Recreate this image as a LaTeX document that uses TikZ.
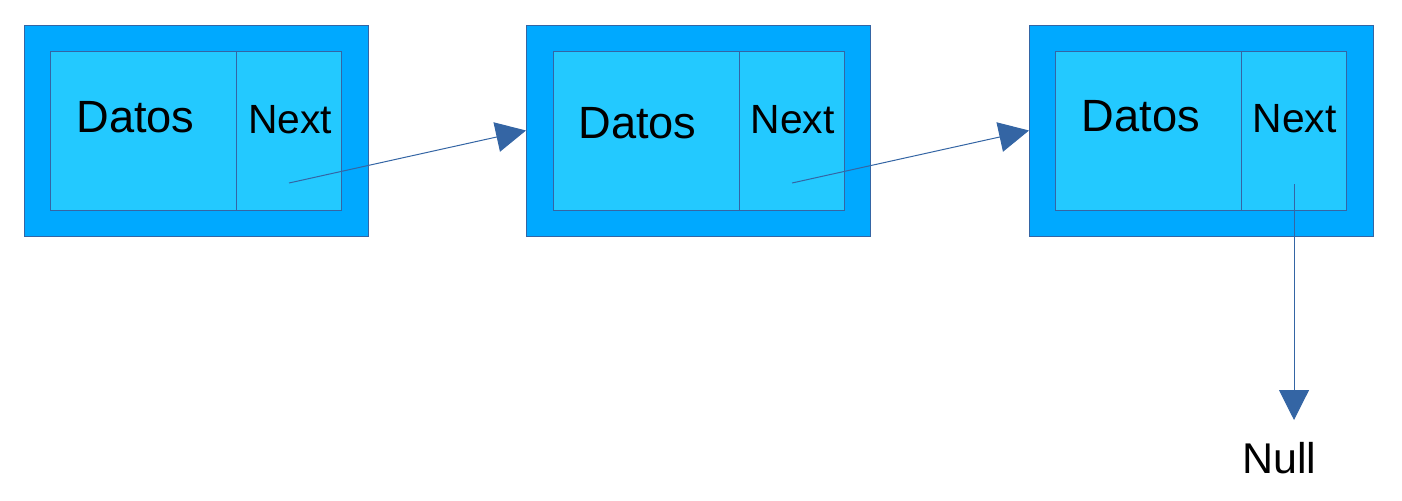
\documentclass[tikz,border=0pt]{standalone}
\usepackage{fontspec}
\setmainfont{Liberation Sans}
\usetikzlibrary{arrows.meta}
\definecolor{outerblue}{RGB}{0,169,255}
\definecolor{innerblue}{RGB}{35,201,255}
\definecolor{edgeblue}{RGB}{52,101,164}
\begin{document}
\begin{tikzpicture}[x=0.5pt,y=-0.5pt,
  outerbox/.style={draw=edgeblue,line width=0.5pt,fill=outerblue,minimum width=172pt,minimum height=105.5pt,inner sep=0pt},
  datacell/.style={draw=edgeblue,line width=0.5pt,fill=innerblue,minimum width=93pt,minimum height=79.5pt,inner sep=0pt},
  nextcell/.style={draw=edgeblue,line width=0.5pt,fill=innerblue,minimum width=52.5pt,minimum height=79.5pt,inner sep=0pt},
  datatext/.style={anchor=base,font=\fontsize{22.6}{26}\selectfont,inner sep=0pt},
  nexttext/.style={anchor=base,font=\fontsize{20.4}{24}\selectfont,inner sep=0pt},
  link/.style={draw=edgeblue,line width=0.5pt,-{Triangle[length=15pt,width=15pt]}}]
\useasboundingbox (0,0) rectangle (1402,500);
% box 1
\node[outerbox] (o1) at (196,130.5) {};
\node[datacell] (d1) at (143,130.5) {};
\node[nextcell] (n1) at (288.5,130.5) {};
\node[datatext] (t1) at (135.5,132) {Datos};
\node[nexttext] (x1) at (290,133) {Next};
% box 2
\node[outerbox] (o2) at (698.5,130.5) {};
\node[datacell] (d2) at (646,130.5) {};
\node[nextcell] (n2) at (791.5,130.5) {};
\node[datatext] (t2) at (637.5,138) {Datos};
\node[nexttext] (x2) at (792.5,133) {Next};
% box 3
\node[outerbox] (o3) at (1201.5,130.5) {};
\node[datacell] (d3) at (1148.5,130.5) {};
\node[nextcell] (n3) at (1293.5,130.5) {};
\node[datatext] (t3) at (1141,131) {Datos};
\node[nexttext] (x3) at (1294.5,132) {Next};
% null
\node[anchor=base,font=\fontsize{21.5}{25}\selectfont,inner sep=0pt] (null) at (1279.5,473) {Null};
% connectors
\coordinate (s1) at (289,183);
\coordinate (s2) at (792,183);
\coordinate (s3) at (1294,184);
\coordinate (e3) at (1294,420);
\draw[link] (s1) -- (o2.west);
\draw[link] (s2) -- (o3.west);
\draw[link] (s3) -- (e3);
\end{tikzpicture}
\end{document}
